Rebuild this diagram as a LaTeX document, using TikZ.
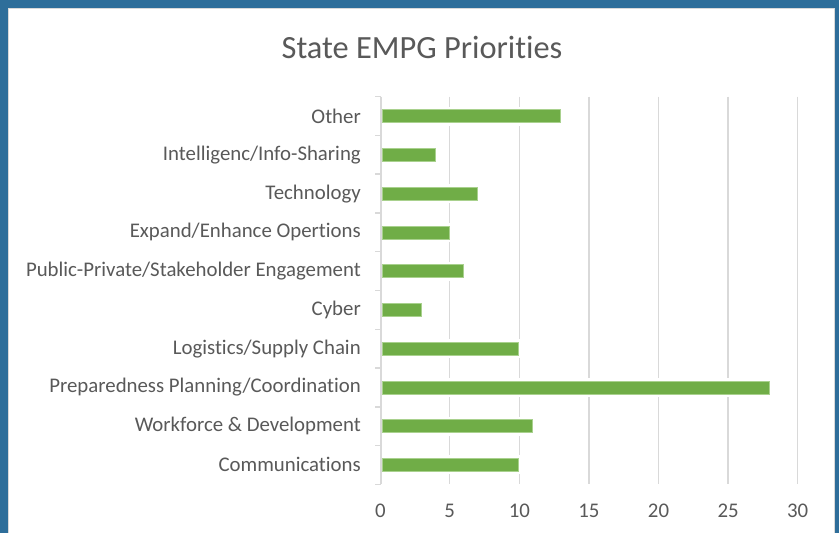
\documentclass[tikz,border=0pt]{standalone}
\usepackage{fontspec}
\setmainfont{Carlito}[Ligatures={NoCommon}]
\usepackage{tikz}
\definecolor{frameblue}{RGB}{46,110,154}
\definecolor{bargreen}{RGB}{112,173,71}
\definecolor{baredge}{RGB}{169,209,142}
\definecolor{gridgray}{RGB}{217,217,217}
\definecolor{textgray}{RGB}{89,89,89}
\begin{document}
\begin{tikzpicture}[x=1bp,y=-1bp]
\tikzstyle{every node}+=[inner sep=0pt,text=textgray]
\tikzstyle{catlabel}=[anchor=east,font=\fontsize{20.9}{24}\selectfont]
\tikzstyle{ticklabel}=[font=\fontsize{20.9}{24}\selectfont]
\tikzstyle{gridline}=[gridgray,line width=1.5bp]
\tikzstyle{bar}=[fill=bargreen,draw=baredge,line width=0.6bp]
\tikzstyle{barhalo}=[fill=white]
\useasboundingbox (0,0) rectangle (839,533);
% frame and panel
\fill [frameblue] (0,0) rectangle (839,533);
\draw [gridgray,fill=white] (8.5,8.5) rectangle (834,545);
\node (title) [anchor=base,font=\fontsize{32.5}{36}\selectfont] at (422,58.3) {State EMPG Priorities};
% gridlines
\draw [gridline] (449.7,96.7) -- (449.7,484.3);
\draw [gridline] (519.3,96.7) -- (519.3,484.3);
\draw [gridline] (588.9,96.7) -- (588.9,484.3);
\draw [gridline] (658.5,96.7) -- (658.5,484.3);
\draw [gridline] (728.1,96.7) -- (728.1,484.3);
\draw [gridline] (797.7,96.7) -- (797.7,484.3);
% axis and ticks
\draw [gridline] (381,96.7) -- (381,484.3);
\draw [gridline] (375,96.7) -- (381,96.7);
\draw [gridline] (375,135.5) -- (381,135.5);
\draw [gridline] (375,174.2) -- (381,174.2);
\draw [gridline] (375,213.0) -- (381,213.0);
\draw [gridline] (375,251.7) -- (381,251.7);
\draw [gridline] (375,290.5) -- (381,290.5);
\draw [gridline] (375,329.3) -- (381,329.3);
\draw [gridline] (375,368.0) -- (381,368.0);
\draw [gridline] (375,406.8) -- (381,406.8);
\draw [gridline] (375,445.5) -- (381,445.5);
\draw [gridline] (375,484.3) -- (381,484.3);
% bars
\fill [barhalo] (382.5,106.6) rectangle (563.5,125.6);
\draw [bar] (382,109.6) rectangle (560.5,122.6);
\node (other) [catlabel] at (361,116.1) {Other};
\fill [barhalo] (382.5,145.3) rectangle (438.2,164.3);
\draw [bar] (382,148.3) rectangle (435.2,161.3);
\node (intel) [catlabel] at (361,154.8) {Intelligenc/Info-Sharing};
\fill [barhalo] (382.5,184.1) rectangle (480.0,203.1);
\draw [bar] (382,187.1) rectangle (477.0,200.1);
\node (tech) [catlabel] at (361,193.6) {Technology};
\fill [barhalo] (382.5,222.9) rectangle (452.1,241.9);
\draw [bar] (382,225.9) rectangle (449.1,238.9);
\node (expand) [catlabel] at (361,232.4) {Expand/Enhance Opertions};
\fill [barhalo] (382.5,261.6) rectangle (466.0,280.6);
\draw [bar] (382,264.6) rectangle (463.0,277.6);
\node (public) [catlabel] at (361,271.1) {Public-Private/Stakeholder Engagement};
\fill [barhalo] (382.5,300.4) rectangle (424.3,319.4);
\draw [bar] (382,303.4) rectangle (421.3,316.4);
\node (cyber) [catlabel] at (361,309.9) {Cyber};
\fill [barhalo] (382.5,339.2) rectangle (521.7,358.2);
\draw [bar] (382,342.2) rectangle (518.7,355.2);
\node (logistics) [catlabel] at (361,348.7) {Logistics/Supply Chain};
\fill [barhalo] (382.5,377.9) rectangle (772.3,396.9);
\draw [bar] (382,380.9) rectangle (769.3,393.9);
\node (prep) [catlabel] at (361,387.4) {Preparedness Planning/Coordination};
\fill [barhalo] (382.5,416.7) rectangle (535.6,435.7);
\draw [bar] (382,419.7) rectangle (532.6,432.7);
\node (workforce) [catlabel] at (361,426.2) {Workforce \& Development};
\fill [barhalo] (382.5,455.4) rectangle (521.7,474.4);
\draw [bar] (382,458.4) rectangle (518.7,471.4);
\node (comms) [catlabel] at (361,464.9) {Communications};
% value axis labels
\node (t0) [ticklabel] at (380.5,511) {0};
\node (t5) [ticklabel] at (449.7,511) {5};
\node (t10) [ticklabel] at (519.3,511) {10};
\node (t15) [ticklabel] at (588.9,511) {15};
\node (t20) [ticklabel] at (658.5,511) {20};
\node (t25) [ticklabel] at (728.1,511) {25};
\node (t30) [ticklabel] at (797.7,511) {30};
\end{tikzpicture}
\end{document}
